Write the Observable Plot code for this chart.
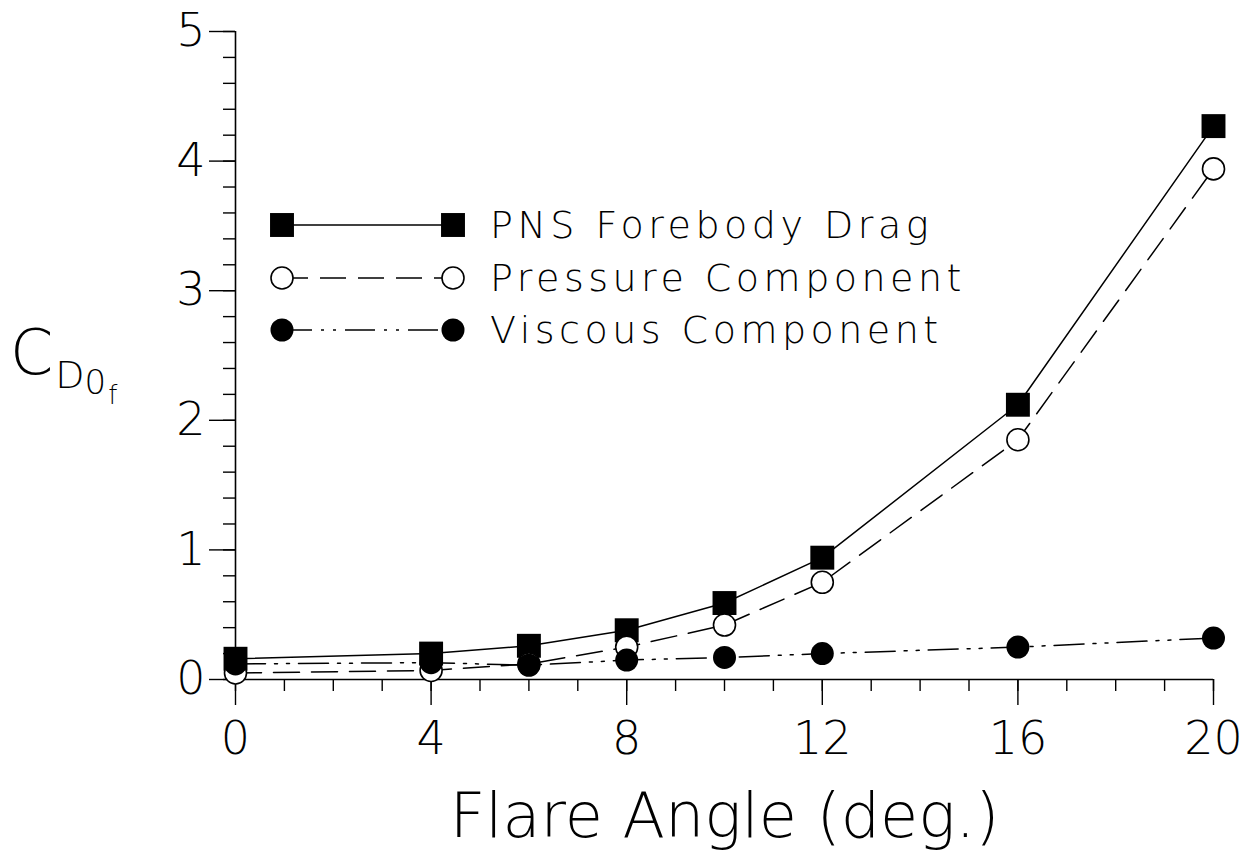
<!DOCTYPE html>
<html>
<head>
<meta charset="utf-8">
<script src="https://cdn.jsdelivr.net/npm/d3@7"></script>
<script src="https://cdn.jsdelivr.net/npm/@observablehq/plot@0.6"></script>
<style>
  html, body { margin: 0; padding: 0; background: #fff; }
  #wrap { position: relative; width: 1245px; height: 857px; font-family: "DejaVu Sans", sans-serif; font-weight: 200; color: #000; }
  #ylab { position: absolute; left: 10px; top: 322px; line-height: 1; color: #000; white-space: nowrap; }
  #ylab .c { font-size: 62px; }
  #ylab .d { font-size: 38px; position: relative; top: 14px; margin-left: 2px; }
  #ylab .z { font-size: 34px; position: relative; top: 20px; }
  #ylab .f { font-size: 26px; position: relative; top: 30px; margin-left: 2px; }
  #legend { position: absolute; left: 0; top: 0; pointer-events: none; }
</style>
</head>
<body>
<div id="wrap">
  <div id="chart"></div>
  <div id="ylab"><span class="c">C</span><span class="d">D</span><span class="z">0</span><span class="f">f</span></div>
</div>
<script>
// ---- data ----
const angles   = [0, 4, 6, 8, 10, 12, 16, 20];
const pns      = [0.16, 0.20, 0.26, 0.38, 0.59, 0.94, 2.12, 4.27];
const pressure = [0.05, 0.07, 0.12, 0.25, 0.42, 0.75, 1.85, 3.94];
const viscous  = [0.12, 0.13, 0.11, 0.15, 0.17, 0.20, 0.25, 0.32];
const seriesNames = ["PNS Forebody Drag", "Pressure Component", "Viscous Component"];
const xMajorTicks = [0, 4, 8, 12, 16, 20];
const xMinorTicks = d3.range(0, 21, 1);
const yMajorTicks = [0, 1, 2, 3, 4, 5];
const yMinorTicks = d3.range(0, 5.01, 0.2).map(v => +v.toFixed(1));
const xTitle = "Flare Angle (deg.)";

// ---- styles ----
const FONT = "\"DejaVu Sans\", sans-serif";
const styles = [
  {name: seriesNames[0], values: pns,      dash: null,           symbol: "square", fill: "black", r: 13.5},
  {name: seriesNames[1], values: pressure, dash: "26,12",        symbol: "circle", fill: "white", r: 11},
  {name: seriesNames[2], values: viscous,  dash: "30,9,3,9,3,9", symbol: "circle", fill: "black", r: 11.5}
];
const rows = s => angles.map((a, i) => ({x: a, y: s.values[i]}));

const marks = [
  Plot.ruleY([0], {stroke: "black", strokeWidth: 1.6}),
  Plot.ruleX([0], {stroke: "black", strokeWidth: 1.6}),
  Plot.axisX({ticks: xMinorTicks, tickSize: 12, tickFormat: () => "", label: null, strokeWidth: 1.4}),
  Plot.axisX({ticks: xMajorTicks, tickSize: 26, tickPadding: 16, fontSize: 46, tickFormat: d3.format("d"), label: null, strokeWidth: 1.4, fontFamily: FONT, fontWeight: 200}),
  Plot.axisY({ticks: yMinorTicks, tickSize: 12, tickFormat: () => "", label: null, strokeWidth: 1.4}),
  Plot.axisY({ticks: yMajorTicks, tickSize: 26, tickPadding: 4, fontSize: 46, tickFormat: d3.format("d"), label: null, strokeWidth: 1.4, fontFamily: FONT, fontWeight: 200}),
  Plot.text([xTitle], {frameAnchor: "bottom", dy: 138, fontSize: 62, fontFamily: FONT, fontWeight: 200, fill: "black", textAnchor: "middle", lineAnchor: "middle"})
];
for (const s of styles) {
  marks.push(Plot.line(rows(s), {x: "x", y: "y", stroke: "black", strokeWidth: 1.5, strokeDasharray: s.dash}));
}
for (const s of styles) {
  marks.push(Plot.dot(rows(s), {x: "x", y: "y", symbol: () => s.symbol, r: s.r, fill: s.fill, stroke: "black", strokeWidth: s.fill === "white" ? 1.6 : 0}));
}

const chart = Plot.plot({
  width: 1245,
  height: 857,
  marginLeft: 235,
  marginRight: 32,
  marginTop: 31,
  marginBottom: 178,
  x: {domain: [0, 20]},
  y: {domain: [0, 5]},
  symbol: {type: "identity"},
  style: {background: "white", color: "black", fontFamily: FONT},
  marks
});
document.getElementById("chart").appendChild(chart);

// ---- legend overlay ----
const leg = d3.select("#wrap").append("svg")
  .attr("id", "legend").attr("width", 1245).attr("height", 857);
const legRowY = [225, 278, 330];
const legX1 = 282, legX2 = 453, legTextX = 490;
styles.forEach((s, i) => {
  const g = leg.append("g").attr("transform", `translate(0,${legRowY[i]})`);
  g.append("line").attr("x1", legX1).attr("x2", legX2).attr("y1", 0).attr("y2", 0)
    .attr("stroke", "black").attr("stroke-width", 1.5)
    .attr("stroke-dasharray", s.dash);
  const sym = s.symbol === "square" ? d3.symbolSquare : d3.symbolCircle;
  const path = d3.symbol(sym, Math.PI * s.r * s.r)();
  [legX1, legX2].forEach(x => {
    g.append("path").attr("d", path).attr("transform", `translate(${x},0)`)
      .attr("fill", s.fill).attr("stroke", "black").attr("stroke-width", s.fill === "white" ? 1.6 : 0);
  });
  g.append("text").attr("x", legTextX).attr("y", 0).attr("dy", "0.35em")
    .attr("font-size", 38).attr("font-family", FONT).attr("font-weight", 200)
    .attr("letter-spacing", 4.5).attr("fill", "black").text(s.name);
});
</script>
</body>
</html>
